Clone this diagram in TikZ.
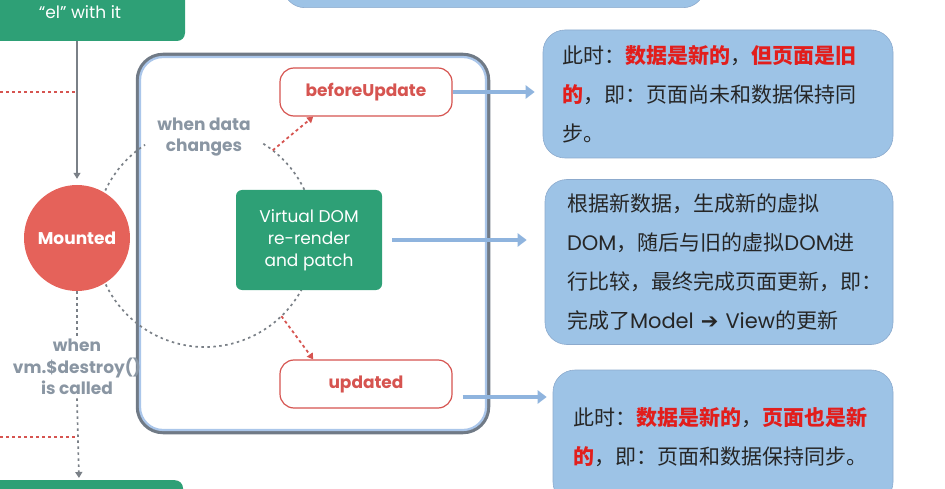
\documentclass[tikz,border=0pt]{standalone}
\usepackage{fontspec}
\setmainfont{Poppins}
\newfontfamily\cjk{Noto Sans CJK SC}
\newfontfamily\sym{DejaVu Sans}
\usetikzlibrary{arrows.meta,calc}

\definecolor{vuegreen}{RGB}{46,160,118}
\definecolor{mountred}{RGB}{229,98,90}
\definecolor{hookred}{RGB}{214,84,80}
\definecolor{notered}{RGB}{226,30,28}
\definecolor{noteblue}{RGB}{157,195,230}
\definecolor{noteedge}{RGB}{140,170,205}
\definecolor{arrowblue}{RGB}{143,180,222}
\definecolor{labelgray}{RGB}{138,150,163}
\definecolor{framegray}{RGB}{112,122,134}
\definecolor{frameblue}{RGB}{170,198,234}
\definecolor{dotgray}{RGB}{122,128,135}

\newcommand{\hot}[1]{\textcolor{notered}{\bfseries #1}}
\newcommand{\lat}[1]{{\rmfamily #1}}

\begin{document}
\begin{tikzpicture}[x=1pt,y=1pt,
	greenbox/.style={fill=vuegreen, text=white, rounded corners=8pt, font=\fontsize{17}{22}\selectfont, align=center},
	hookbox/.style={draw=hookred, line width=1.2pt, fill=white, rounded corners=14pt, minimum width=172pt, minimum height=48pt, text=hookred, font=\fontsize{17}{21}\selectfont\bfseries},
	notebox/.style={fill=noteblue, draw=noteedge, line width=0.6pt, rounded corners=22pt, align=left, font=\cjk\fontsize{21}{39}\selectfont, text=black!85},
	graylabel/.style={text=labelgray, font=\fontsize{17}{21.5}\selectfont\bfseries, align=center},
	dotline/.style={dotgray, line width=1.7pt, dash pattern=on 2.5pt off 3.5pt},
	reddot/.style={hookred, line width=1.8pt, dash pattern=on 3pt off 3pt},
	bluearrow/.style={arrowblue, line width=3.5pt, -{Triangle[length=9pt,width=13pt]}},
	tip/.style={-{Triangle[length=6pt,width=7pt]}}
]
	%\draw[help lines] (0,0) grid[step=50] (945,488);
	\useasboundingbox (0,0) rectangle (945,488);
	\clip (0,0) rectangle (945,488);

	% left column
	\node[greenbox, minimum width=210pt, minimum height=58pt] (mountbox) at (80,476) {“el” with it};
	\node[greenbox, minimum width=208pt, minimum height=40pt, anchor=north] (destroybox) at (79,8) {};
	\node[notebox, minimum width=422pt, minimum height=40pt, anchor=south] (topnote) at (494,480) {};

	% update loop
	\draw[framegray, line width=4.5pt, rounded corners=25pt] (138,56) rectangle (488,433);
	\draw[frameblue, line width=2.2pt, rounded corners=23pt] (140,58) rectangle (486,431);

	\coordinate (loopc) at (205,251);
	\draw[dotline] ($(loopc)+(155:110)$) arc[start angle=155, end angle=123, radius=110];
	\draw[dotline] ($(loopc)+(58:110)$) arc[start angle=58, end angle=25, radius=110];
	\draw[dotline] ($(loopc)+(-25:110)$) arc[start angle=-25, end angle=-155, radius=110];

	\node[circle, fill=mountred, minimum size=106pt, text=white, font=\fontsize{17}{20}\selectfont\bfseries] (mounted) at (77,250) {Mounted};
	\node[greenbox, rounded corners=6pt, minimum width=146pt, minimum height=100pt] (vdom) at (309,248) {Virtual DOM\\re-render\\and patch};
	\node[hookbox] (beforeupdate) at (366,396) {beforeUpdate};
	\node[hookbox] (updated) at (366,104) {updated};
	\node[graylabel] (datachange) at (204,351) {when data\\changes};
	\node[graylabel] (destroylabel) at (77,121) {when\\vm.\$destroy()\\is called};

	\coordinate (upstart) at ($(loopc)+(52:110)$);
	\coordinate (downstart) at ($(loopc)+(-46:110)$);
	\draw[reddot, tip] (upstart) -- (beforeupdate.205);
	\draw[reddot, tip] (downstart) -- (updated.155);

	\draw[dotgray, line width=1.2pt, tip, shorten >=6pt] (mountbox.south -| mounted.north) -- (mounted.north);
	\draw[dotline] (mounted.south) -- (destroylabel.north);
	\draw[dotline, tip, shorten >=2pt] (destroylabel.south) -- (destroybox.north);

	\coordinate (redtop) at (0,396);
	\coordinate (redbot) at (0,51);
	\draw[reddot] (redtop) -- (redtop -| mounted.center);
	\draw[reddot] (redbot) -- (redbot -| mounted.center);

	% notes
	\node[notebox, minimum width=350pt, minimum height=128pt, inner xsep=19pt, text width=312pt] (note1) at (718,394)
		{此时：\hot{数据是新的}，\hot{但页面是旧}\\\hot{的}，即：页面尚未和数据保持同\\步。};
	\node[notebox, minimum width=348pt, minimum height=165pt, inner xsep=22pt, text width=304pt] (note2) at (719,226)
		{根据新数据，生成新的虚拟\\\lat{DOM}，随后与旧的虚拟\lat{DOM}进\\行比较，最终完成页面更新，即：\\完成了\lat{Model} {\sym ➔} \lat{View}的更新};
	\node[notebox, minimum width=340pt, minimum height=134pt, inner xsep=20pt, text width=300pt] (note3) at (723,51)
		{此时：\hot{数据是新的}，\hot{页面也是新}\\\hot{的}，即：页面和数据保持同步。};

	\coordinate (hookout) at ($(updated.east)+(10,-13)$);
	\draw[bluearrow, shorten >=8pt] (beforeupdate.east) -- (beforeupdate.east -| note1.west);
	\draw[bluearrow, shorten <=10pt, shorten >=18pt] (vdom.east) -- (vdom.east -| note2.west);
	\draw[bluearrow, shorten >=6pt] (hookout) -- (hookout -| note3.west);
\end{tikzpicture}
\end{document}
